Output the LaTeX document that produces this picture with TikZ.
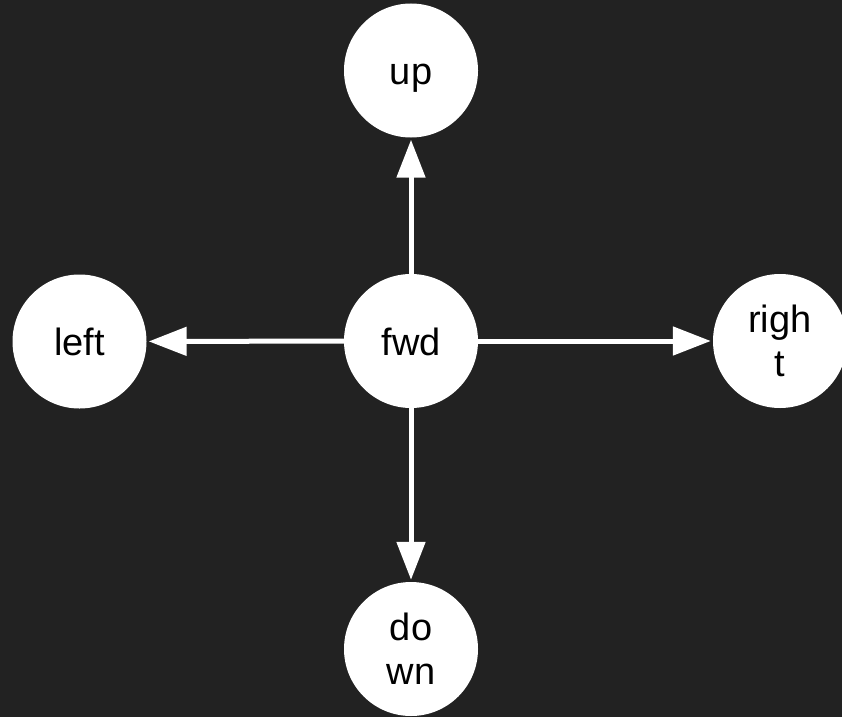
\documentclass[tikz,border=0pt]{standalone}
\usepackage{fontspec}
\setmainfont{Liberation Sans}
\usetikzlibrary{arrows.meta}
\definecolor{bgc}{HTML}{222222}
\begin{document}
\begin{tikzpicture}[x=1pt,y=-1pt,
  ball/.style={circle,fill=white,draw=none,minimum size=134pt,inner sep=0pt,
    align=center,text=black,
    font=\fontsize{38pt}{44pt}\selectfont},
  oneline/.style={text height=28pt,text depth=0pt},
  arr/.style={draw=white,line width=5pt,
    -{Triangle[width=28pt,length=38pt]},shorten >=2pt}]
\fill[bgc] (0,0) rectangle (842,717);
\useasboundingbox (0,0) rectangle (842,717);
\node[ball,oneline] (fwd) at (411,341) {fwd};
\node[ball,oneline] (up) at (411,70.5) {up};
\node[ball,oneline] (left) at (79.5,341.5) {left};
\node[ball] (right) at (780,341) {righ\\t};
\node[ball] (down) at (411,649) {do\\wn};
\draw[arr] (fwd) -- (up);
\draw[arr] (fwd) -- (left);
\draw[arr] (fwd) -- (right);
\draw[arr] (fwd) -- (down);
\end{tikzpicture}
\end{document}
